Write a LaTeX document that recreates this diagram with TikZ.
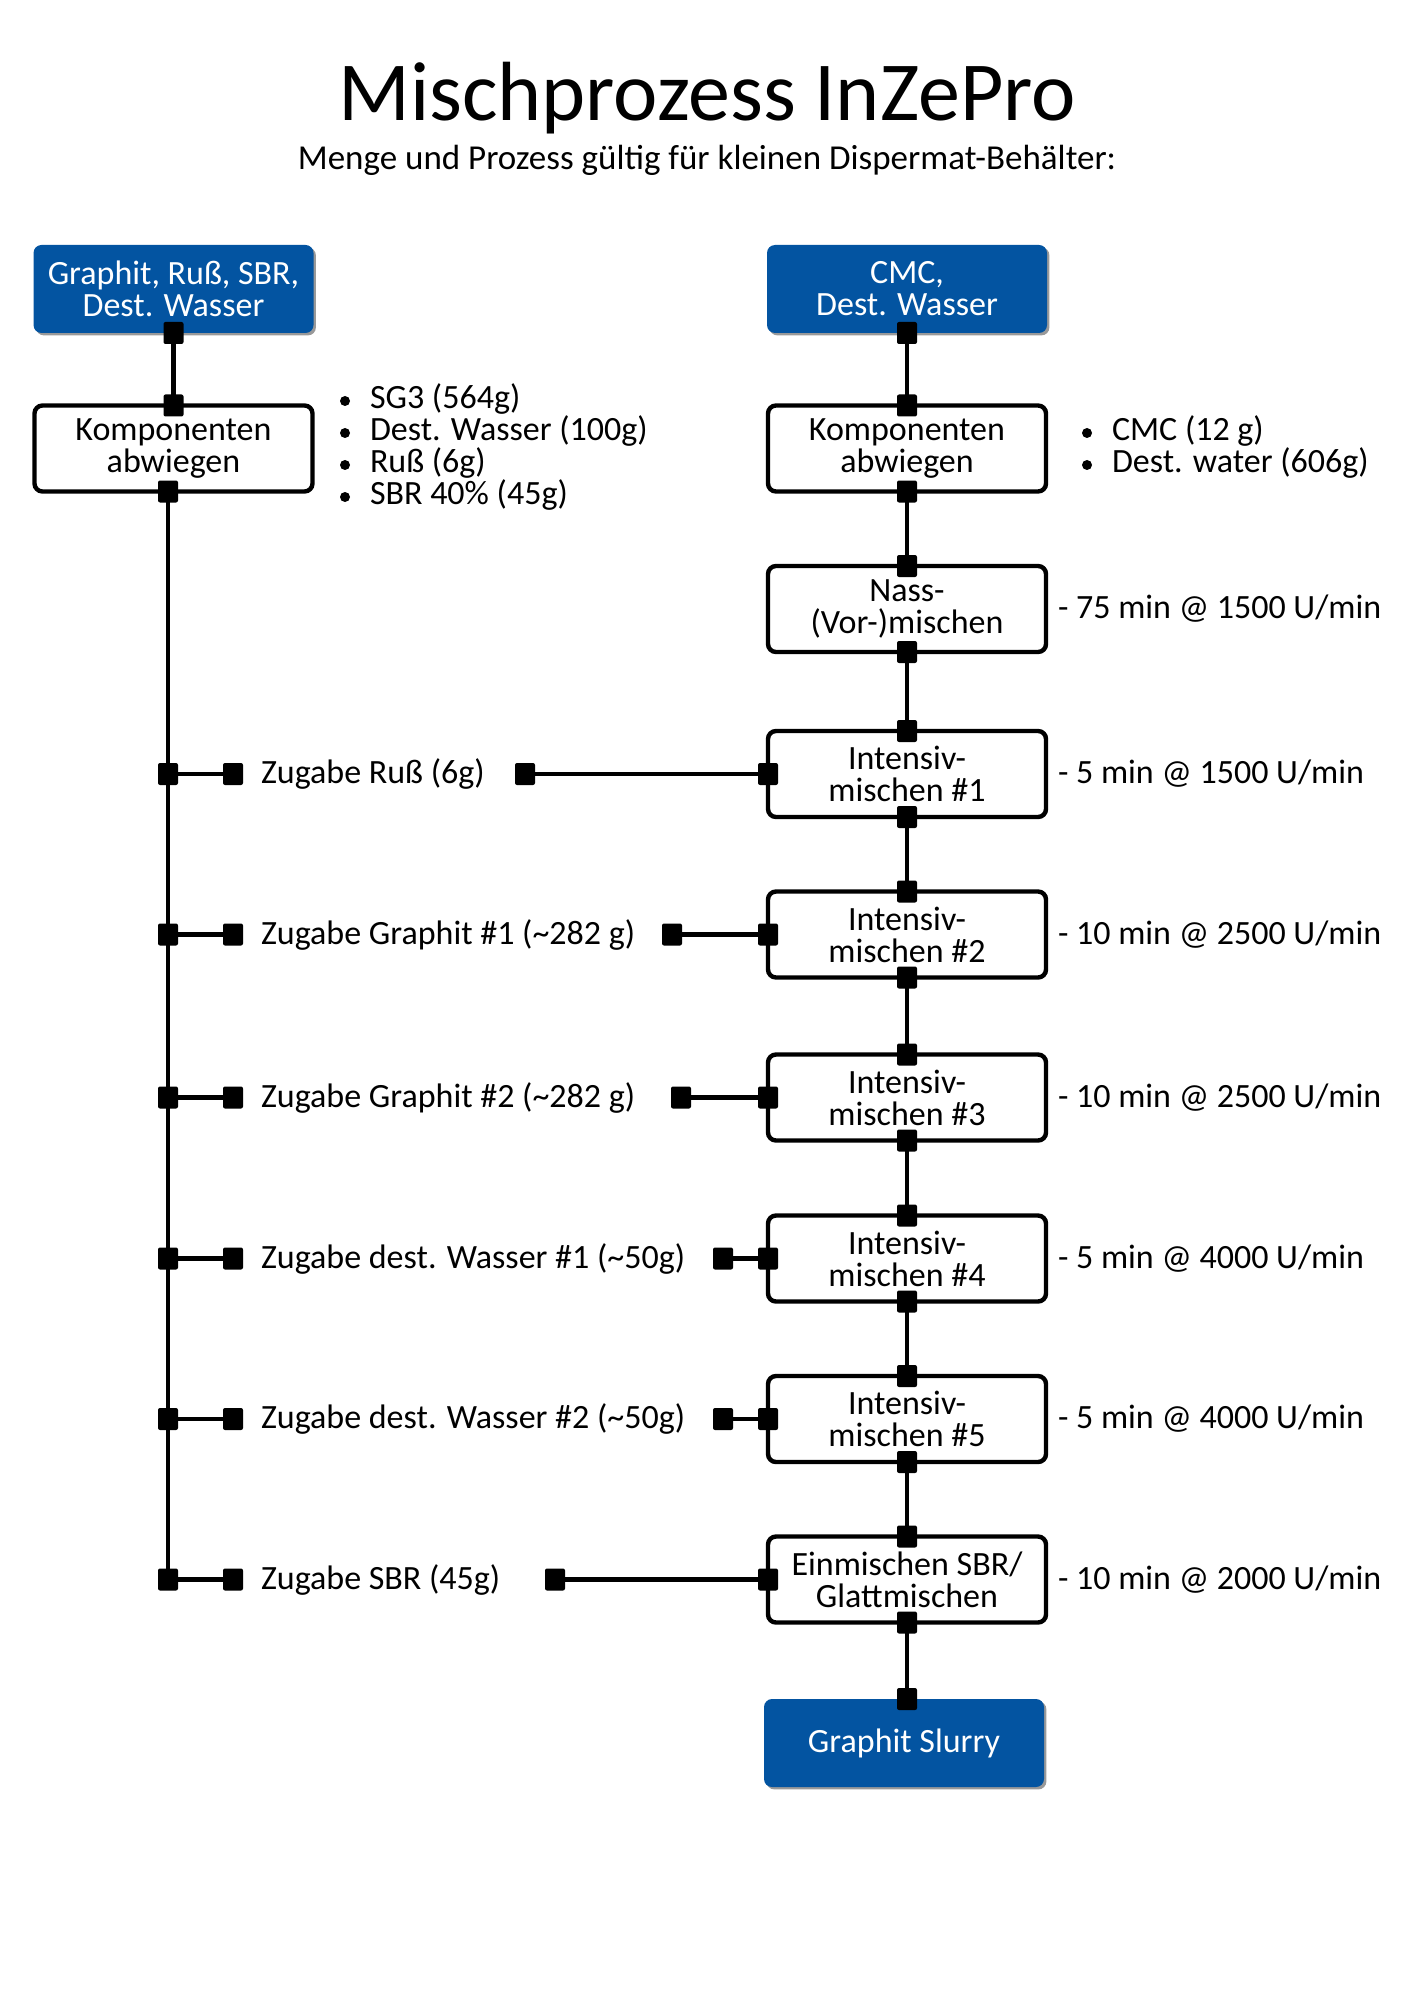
\documentclass[tikz,border=0pt]{standalone}
\usepackage{fontspec}
\setmainfont{Carlito}
\usetikzlibrary{shadows}
\definecolor{myblue}{RGB}{3,84,161}
\newcommand\titlefont{\fontsize{42pt}{46pt}\selectfont}
\newcommand\subfont{\fontsize{17.5pt}{20pt}\selectfont}
\newcommand\boxfont{\fontsize{17pt}{16pt}\selectfont\lineskiplimit=-20pt\relax}
\begin{document}
\begin{tikzpicture}[x=0.5pt,y=-0.5pt,
  every node/.style={inner sep=0pt,outer sep=0pt},
  proc/.style={draw=black,line width=2.2pt,rounded corners=4pt,fill=white,
    minimum width=139pt,minimum height=43pt,align=center,font=\boxfont},
  startbox/.style={rounded corners=4pt,fill=myblue,text=white,
    minimum width=140pt,minimum height=44pt,align=center,font=\boxfont,
    drop shadow={shadow xshift=1.2pt,shadow yshift=-1.2pt,fill=gray!80,opacity=1}},
  sq/.style={fill=black,minimum width=10pt,minimum height=11pt,rounded corners=1pt},
  dot/.style={circle,fill=black,minimum size=5pt},
  conn/.style={line width=2.2pt},
  lbl/.style={anchor=west,font=\boxfont},
]
\fill[white] (0,0) rectangle (1414,2000);
\useasboundingbox (0,0) rectangle (1414,2000);

% titles
\node[font=\titlefont,anchor=base] (title) at (707,121) {Mischprozess InZePro};
\node[font=\subfont,anchor=base] (subtitle) at (707,170) {Menge und Prozess gültig für kleinen Dispermat-Behälter:};

% left column
\node[startbox] (b1) at (173.5,289) {Graphit, Ruß, SBR,\\Dest. Wasser};
\node[proc] (k1) at (173.5,448.5) {Komponenten\\abwiegen};

% right column
\node[startbox] (b2) at (907,289) {CMC,\\Dest. Wasser};
\node[proc] (k2) at (907,448.5) {Komponenten\\abwiegen};
\node[proc] (n1) at (907,609) {Nass-\\(Vor-)mischen};
\node[proc] (i1) at (907,774) {Intensiv-\\mischen \#1};
\node[proc] (i2) at (907,934.5) {Intensiv-\\mischen \#2};
\node[proc] (i3) at (907,1097.5) {Intensiv-\\mischen \#3};
\node[proc] (i4) at (907,1258.5) {Intensiv-\\mischen \#4};
\node[proc] (i5) at (907,1419) {Intensiv-\\mischen \#5};
\node[proc] (e1) at (907,1579.5) {Einmischen SBR/\\Glattmischen};
\node[startbox] (s1) at (904,1743) {Graphit Slurry};

% bullet lists
\node[dot] (la1) at (345,401) {};
\node[dot] (la2) at (345,433) {};
\node[dot] (la3) at (345,465) {};
\node[dot] (la4) at (345,497) {};
\node[lbl] (lt1) at (370,399) {SG3 (564g)};
\node[lbl] (lt2) at (370,431) {Dest. Wasser (100g)};
\node[lbl] (lt3) at (370,463) {Ruß (6g)};
\node[lbl] (lt4) at (370,495) {SBR 40\% (45g)};
\node[dot] (ra1) at (1087,433) {};
\node[dot] (ra2) at (1087,465) {};
\node[lbl] (rt1) at (1112,431) {CMC (12 g)};
\node[lbl] (rt2) at (1112,463) {Dest. water (606g)};

% process parameters
\node[lbl] (p0) at (1058,609) {- 75 min @ 1500 U/min};
\node[lbl] (p1) at (1058,774) {- 5 min @ 1500 U/min};
\node[lbl] (p2) at (1058,934.5) {- 10 min @ 2500 U/min};
\node[lbl] (p3) at (1058,1097.5) {- 10 min @ 2500 U/min};
\node[lbl] (p4) at (1058,1258.5) {- 5 min @ 4000 U/min};
\node[lbl] (p5) at (1058,1419) {- 5 min @ 4000 U/min};
\node[lbl] (p6) at (1058,1579.5) {- 10 min @ 2000 U/min};

% additions
\node[lbl] (z1) at (261,774) {Zugabe Ruß (6g)};
\node[lbl] (z2) at (261,934.5) {Zugabe Graphit \#1 (\textasciitilde282 g)};
\node[lbl] (z3) at (261,1097.5) {Zugabe Graphit \#2 (\textasciitilde282 g)};
\node[lbl] (z4) at (261,1258.5) {Zugabe dest. Wasser \#1 (\textasciitilde50g)};
\node[lbl] (z5) at (261,1419) {Zugabe dest. Wasser \#2 (\textasciitilde50g)};
\node[lbl] (z6) at (261,1579.5) {Zugabe SBR (45g)};

% vertical flow connectors
\coordinate (kt) at ([xshift=-2.75pt]k1.south);
\coordinate (tend) at (168,1579.5);
\draw[conn] (b1.south) -- (k1.north);
\draw[conn] (kt) -- (tend);
\foreach \a/\b in {b2/k2,k2/n1,n1/i1,i1/i2,i2/i3,i3/i4,i4/i5,i5/e1}{
  \draw[conn] (\a.south) -- (\b.north);
}
\draw[conn] (e1.south) -- (s1.north -| e1.south);

% branch connectors
\foreach \i/\y/\xr/\bx in {1/774/525/i1,2/934.5/672/i2,3/1097.5/681/i3,4/1258.5/723/i4,5/1419/723/i5,6/1579.5/555/e1}{
  \node[sq] (ta\i) at (168,\y) {};
  \node[sq] (tb\i) at (233,\y) {};
  \node[sq] (tc\i) at (\xr,\y) {};
  \draw[conn] (ta\i.center) -- (tb\i.center);
  \draw[conn] (tc\i.center) -- (\bx.west);
  \node[sq] (td\i) at (\bx.west) {};
}

% end squares of vertical connectors
\node[sq] (q1) at (b1.south) {};
\node[sq] (q2) at (k1.north) {};
\node[sq] (q3) at (kt) {};
\foreach \n in {b2,k2,n1,i1,i2,i3,i4,i5,e1}{
  \node[sq] (qs\n) at (\n.south) {};
}
\foreach \n in {k2,n1,i1,i2,i3,i4,i5,e1}{
  \node[sq] (qn\n) at (\n.north) {};
}
\node[sq] (qs) at (s1.north -| e1.south) {};
\end{tikzpicture}
\end{document}
